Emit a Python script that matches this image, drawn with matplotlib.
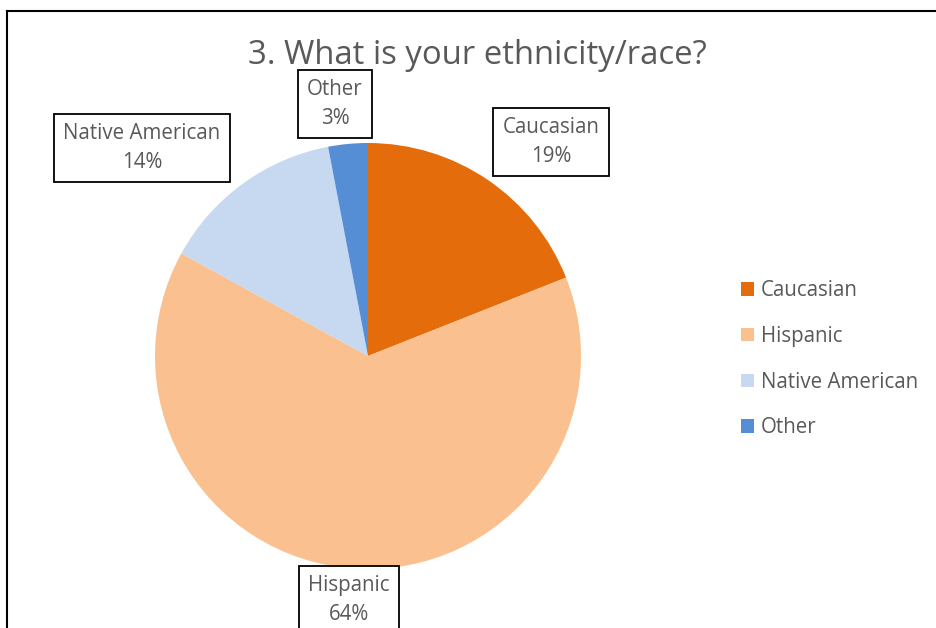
import matplotlib
matplotlib.use("Agg")
import matplotlib.pyplot as plt
from matplotlib.patches import Patch
from matplotlib.lines import Line2D

categories = ["Caucasian", "Hispanic", "Native American", "Other"]
values = [19, 64, 14, 3]
colors = ["#E46C0A", "#FAC090", "#C6D9F1", "#558ED5"]
title = "3. What is your ethnicity/race?"

W, H = 937, 628
fig = plt.figure(figsize=(W / 100, H / 100), dpi=100)
plt.rcParams['font.family'] = ['Open Sans', 'DejaVu Sans']
txtc = "#595959"

def fx(px):
    return px / W

def fy(py):
    return 1 - py / H

# pie axes
cx, cy, r = 368, 356, 213
ax = fig.add_axes([fx(cx - r), fy(cy + r), 2 * r / W, 2 * r / H])
ax.pie(values, colors=colors, startangle=90, counterclock=False,
       radius=1.0, wedgeprops=dict(linewidth=0))
ax.set_xlim(-1, 1)
ax.set_ylim(-1, 1)
ax.set_aspect('auto')
ax.axis('off')

# frame
fig.add_artist(Line2D([fx(7), 1.0], [fy(11), fy(11)], color='black', lw=1.5, transform=fig.transFigure))
fig.add_artist(Line2D([fx(7), fx(7)], [fy(11), 0.0], color='black', lw=1.5, transform=fig.transFigure))

fig.text(fx(477), fy(56), title, ha='center', va='center', fontsize=23.7, color=txtc)

# data labels
label_pos = {
    "Caucasian": (551, 142),
    "Hispanic": (349, 600),
    "Native American": (142, 148),
    "Other": (335, 104),
}
for cat, val in zip(categories, values):
    x, y = label_pos[cat]
    fig.text(fx(x), fy(y), f"{cat}\n{val}%", ha='center', va='center',
             fontsize=14.8, color=txtc, linespacing=1.45,
             bbox=dict(boxstyle='square,pad=0.45', facecolor='white', edgecolor='black', lw=1.3))

handles = [Patch(facecolor=c, edgecolor='none') for c in colors]
leg = fig.legend(handles, categories, loc='upper left',
                 bbox_to_anchor=(fx(735), fy(274)), frameon=False,
                 fontsize=14.8, handlelength=0.62, handleheight=0.62,
                 handletextpad=0.35, labelspacing=1.2, labelcolor=txtc,
                 borderaxespad=0, borderpad=0.3)

fig.savefig("out.png", dpi=100)
